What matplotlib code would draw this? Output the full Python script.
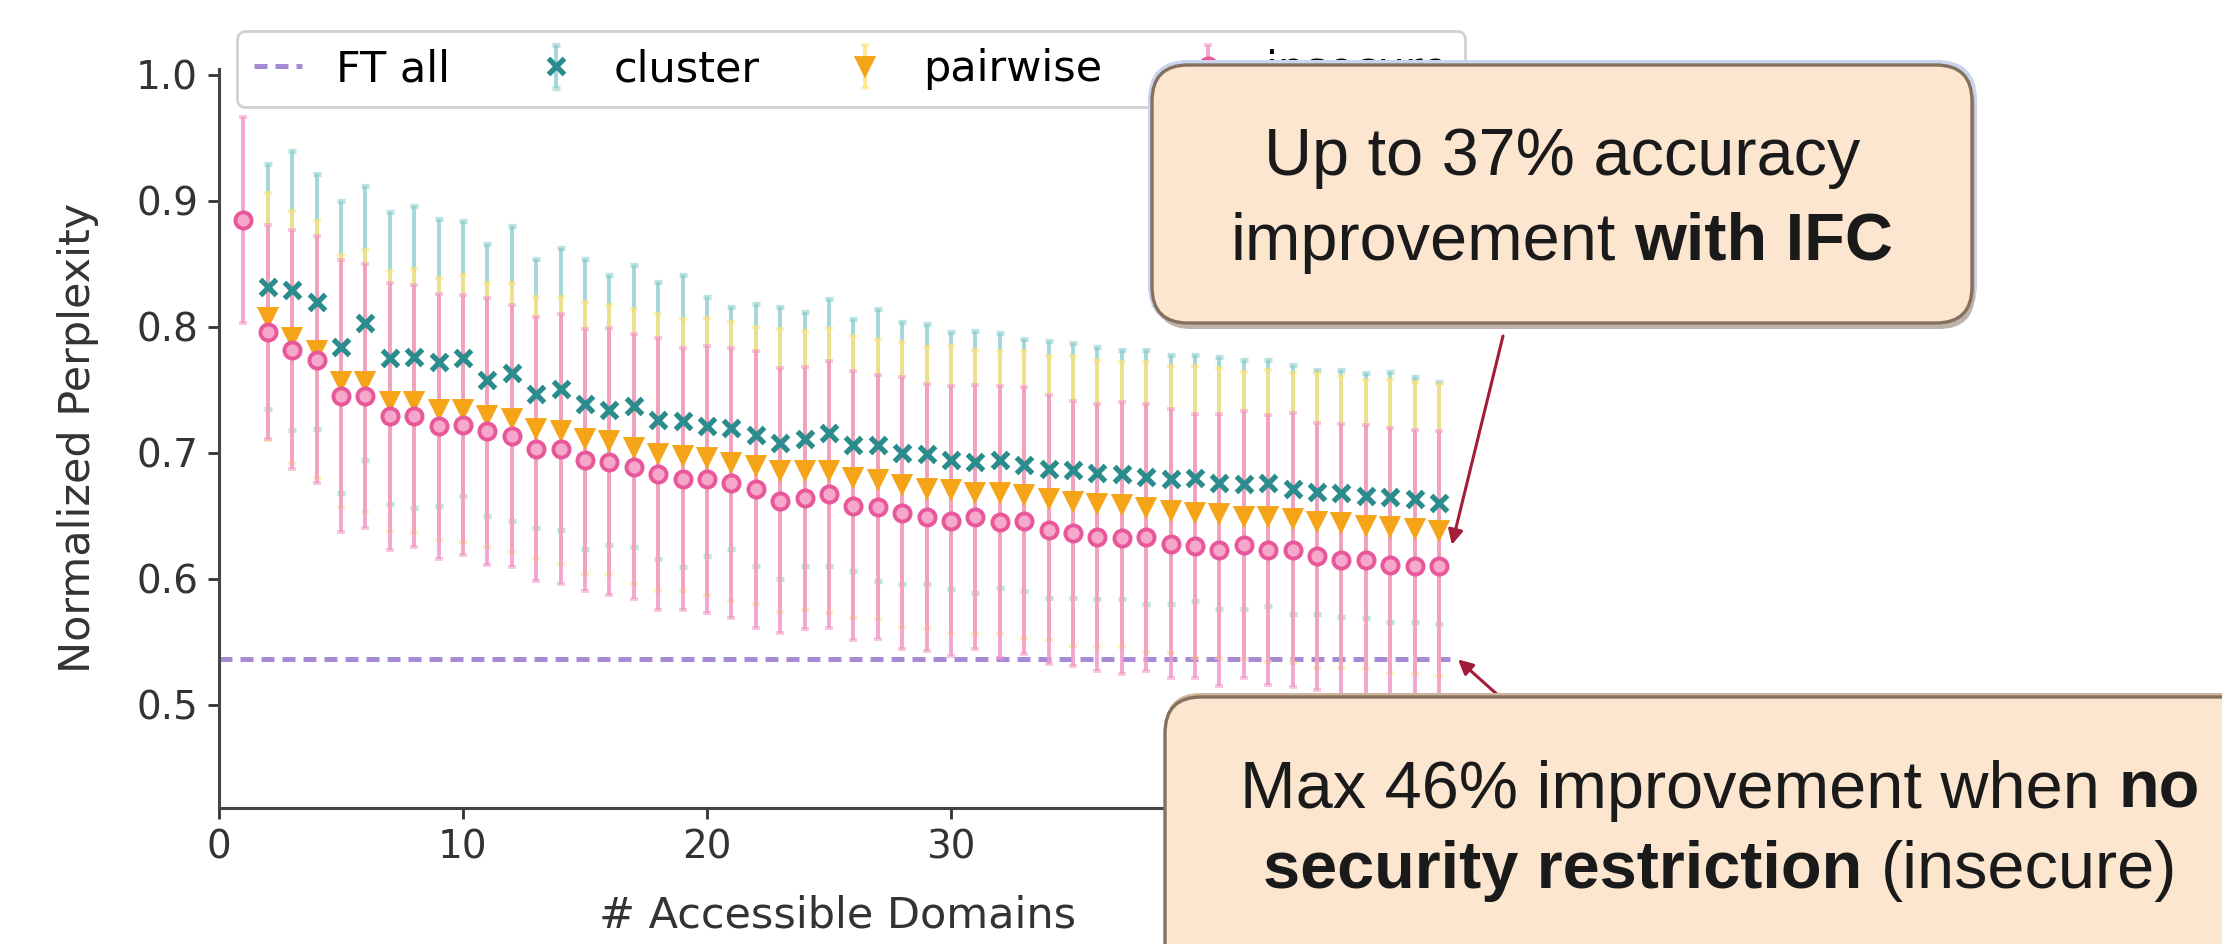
import matplotlib
matplotlib.use('Agg')
import matplotlib.pyplot as plt
from matplotlib.patches import FancyBboxPatch
from matplotlib.lines import Line2D
from matplotlib.transforms import IdentityTransform

# global style
plt.rcParams['font.family'] = ['DejaVu Sans']
plt.rcParams['axes.linewidth'] = 1.1
plt.rcParams['xtick.major.width'] = 1.0
plt.rcParams['ytick.major.width'] = 1.0
plt.rcParams['xtick.major.size'] = 4
plt.rcParams['ytick.major.size'] = 4

# ===================== data =====================
ins_x = list(range(1, 51))
ins_mean = [0.885, 0.796, 0.782, 0.774, 0.745, 0.745, 0.729, 0.729, 0.721, 0.722,
            0.717, 0.713, 0.703, 0.703, 0.694, 0.693, 0.689, 0.683, 0.679, 0.679,
            0.676, 0.671, 0.662, 0.664, 0.667, 0.658, 0.657, 0.652, 0.649, 0.646,
            0.649, 0.645, 0.646, 0.639, 0.636, 0.633, 0.632, 0.633, 0.628, 0.626,
            0.623, 0.627, 0.623, 0.623, 0.618, 0.615, 0.615, 0.611, 0.610, 0.610]
ins_err = [0.082, 0.085, 0.095, 0.098, 0.108, 0.105, 0.106, 0.104, 0.105, 0.103,
           0.106, 0.104, 0.105, 0.107, 0.104, 0.106, 0.105, 0.108, 0.104, 0.106,
           0.107, 0.110, 0.105, 0.104, 0.106, 0.107, 0.105, 0.108, 0.106, 0.107,
           0.105, 0.108, 0.106, 0.107, 0.105, 0.106, 0.108, 0.106, 0.107, 0.105,
           0.108, 0.106, 0.107, 0.109, 0.106, 0.108, 0.107, 0.109, 0.108, 0.107]

grp_x = list(range(2, 51))
cluster_mean = [0.832, 0.829, 0.820, 0.784, 0.803, 0.775, 0.776, 0.772, 0.775, 0.758,
                0.763, 0.747, 0.751, 0.739, 0.734, 0.737, 0.726, 0.725, 0.721, 0.720,
                0.714, 0.708, 0.711, 0.716, 0.706, 0.706, 0.700, 0.699, 0.694, 0.693,
                0.694, 0.690, 0.687, 0.686, 0.684, 0.683, 0.681, 0.679, 0.680, 0.676,
                0.675, 0.676, 0.671, 0.669, 0.668, 0.666, 0.665, 0.663, 0.660]
cluster_err = [0.097, 0.111, 0.101, 0.116, 0.109, 0.116, 0.120, 0.114, 0.109, 0.108,
               0.117, 0.107, 0.112, 0.115, 0.107, 0.112, 0.110, 0.116, 0.103, 0.096,
               0.104, 0.108, 0.101, 0.106, 0.100, 0.108, 0.104, 0.103, 0.102, 0.104,
               0.101, 0.100, 0.102, 0.101, 0.100, 0.099, 0.101, 0.099, 0.098, 0.100,
               0.099, 0.098, 0.099, 0.097, 0.098, 0.097, 0.099, 0.097, 0.096]
pairwise_mean = [0.808, 0.792, 0.782, 0.757, 0.757, 0.741, 0.741, 0.735, 0.735, 0.730,
                 0.728, 0.720, 0.718, 0.712, 0.710, 0.705, 0.700, 0.698, 0.697, 0.693,
                 0.690, 0.686, 0.686, 0.686, 0.681, 0.679, 0.675, 0.672, 0.671, 0.669,
                 0.669, 0.667, 0.664, 0.662, 0.660, 0.659, 0.657, 0.655, 0.653, 0.652,
                 0.650, 0.650, 0.648, 0.646, 0.645, 0.643, 0.642, 0.640, 0.639]
pairwise_err = [0.098, 0.100, 0.102, 0.100, 0.104, 0.103, 0.105, 0.104, 0.106, 0.105,
                0.107, 0.104, 0.106, 0.108, 0.107, 0.109, 0.110, 0.108, 0.110, 0.111,
                0.110, 0.112, 0.111, 0.113, 0.112, 0.111, 0.113, 0.112, 0.114, 0.113,
                0.112, 0.114, 0.113, 0.115, 0.114, 0.113, 0.115, 0.114, 0.116, 0.115,
                0.114, 0.116, 0.115, 0.117, 0.116, 0.115, 0.117, 0.116, 0.116]

ft_all = 0.536

legend_labels = ['FT all', 'cluster', 'pairwise', 'insecure']

box1_lines = [[('Up to 37% accuracy', 'normal')],
              [('improvement', 'normal'), ('with IFC', 'bold')]]
box2_lines = [[('Max 46% improvement when', 'normal'), ('no', 'bold')],
              [('security restriction', 'bold'), ('(insecure)', 'normal')]]

# ===================== figure =====================
W, H = 2222, 944
fig = plt.figure(figsize=(W / 200, H / 200), dpi=200)
ax = fig.add_axes([219 / W, 1 - 808 / H, (1456 - 219) / W, (808 - 68.7) / H])

# FT all baseline
ax.axhline(ft_all, color='#a68ad6', lw=1.8, dashes=(2.6, 1.6), zorder=1)


def draw_series(x, y, err, marker, mcolor, ecolor, ealpha, capcolor, ms, mfc=None, mew=1.4):
    c = ax.errorbar(x, y, yerr=err, fmt=marker, color=mcolor, ms=ms,
                    mfc=mfc if mfc else mcolor, mec=mcolor, mew=mew,
                    ecolor=ecolor, elinewidth=1.4, capsize=1.6, capthick=1.1, zorder=2)
    c.lines[0].set_zorder(6)
    for cap in c.lines[1]:
        cap.set_color(capcolor)
        cap.set_alpha(0.55)
    for bar in c.lines[2]:
        bar.set_alpha(ealpha)
    return c


h_cluster = draw_series(grp_x, cluster_mean, cluster_err, 'x', '#2b8c8e', '#86cccb', 0.75,
                        '#23585a', 5.6, mew=1.9)
h_pair = draw_series(grp_x, pairwise_mean, pairwise_err, 'v', '#f5a418', '#ffe27a', 0.8,
                     '#7a6a30', 5.6)
h_ins = draw_series(ins_x, ins_mean, ins_err, 'o', '#e9579b', '#f297c6', 0.85,
                    '#7a2c58', 5.8, mfc='#f6a8cb')

ax.set_xlim(0, 50.7)
ax.set_ylim(0.418, 1.005)
ax.set_xticks([0, 10, 20, 30, 40])
ax.set_yticks([0.5, 0.6, 0.7, 0.8, 0.9, 1.0])
ax.tick_params(labelsize=14, colors='#333333')
ax.spines['top'].set_visible(False)
ax.spines['right'].set_visible(False)
for s in ('left', 'bottom'):
    ax.spines[s].set_color('#444444')
ax.set_xlabel('# Accessible Domains', fontsize=15.5, color='#333333', labelpad=10)
ax.set_ylabel('Normalized Perplexity', fontsize=15.5, color='#333333')
ax.yaxis.set_label_coords(-0.097, 0.5)

ft_handle = Line2D([], [], color='#a68ad6', lw=1.8, dashes=(2.6, 1.6))
ax.legend([ft_handle, h_cluster, h_pair, h_ins], legend_labels,
          loc='upper left', bbox_to_anchor=(0.0146, 1.051), ncol=4, fontsize=15.5,
          handlelength=1.1, handletextpad=0.8, columnspacing=1.9, borderaxespad=0,
          framealpha=0.9, edgecolor='#cccccc')

# ===================== callout boxes =====================
ident = IdentityTransform()


def add_box(x0, ytop, w, h, glow=None, shadow=None):
    y0 = H - ytop - h
    if glow:
        fig.add_artist(FancyBboxPatch((x0 - 4, y0 - 2), w + 9, h + 7, transform=ident,
                                      boxstyle='round,pad=0,rounding_size=40',
                                      fc=glow, ec='none', zorder=2))
    if shadow:
        dx, dy, col = shadow
        fig.add_artist(FancyBboxPatch((x0 + dx, y0 + dy), w, h, transform=ident,
                                      boxstyle='round,pad=0,rounding_size=36',
                                      fc=col, ec='none', zorder=2))
    fig.add_artist(FancyBboxPatch((x0, y0), w, h, transform=ident,
                                  boxstyle='round,pad=0,rounding_size=36',
                                  fc='#fce6cf', ec='#857060', lw=1.2, zorder=3))


def add_rich_text(lines, cx, baselines, size=24):
    # lines mix regular and bold pieces, so each piece is placed by measuring
    renderer = fig.canvas.get_renderer()
    probe_a = fig.text(0, 0, 'xx', fontsize=size, family='Liberation Sans', transform=ident)
    probe_b = fig.text(0, 0, 'x x', fontsize=size, family='Liberation Sans', transform=ident)
    space = probe_b.get_window_extent(renderer).width - probe_a.get_window_extent(renderer).width
    probe_a.remove()
    probe_b.remove()
    for parts, yb in zip(lines, baselines):
        texts = [fig.text(0, H - yb, s, fontsize=size, fontweight=wt, family='Liberation Sans',
                          color='#1a1a1a', va='baseline', ha='left', transform=ident, zorder=4)
                 for s, wt in parts]
        widths = [t.get_window_extent(renderer).width for t in texts]
        x = cx - (sum(widths) + space * (len(texts) - 1)) / 2
        for t, wd in zip(texts, widths):
            t.set_x(x)
            x += wd + space


add_box(1152, 65, 820, 258, glow='#c9d5ef', shadow=(3, -6, '#bdb3aa'))
add_box(1165, 697, 1110, 290, shadow=(0, 4, '#cfb69d'))
add_rich_text(box1_lines, 1562, [175, 260])
add_rich_text(box2_lines, 1720, [808, 888])

# arrows from boxes to the curves
arrow_kw = dict(arrowstyle='-|>', color='#a31d3a', lw=1.1, mutation_scale=11,
                shrinkA=0, shrinkB=0)
ax.annotate('', xy=(50.53, 0.627), xycoords='data', xytext=(1503, H - 336),
            textcoords=ident, arrowprops=arrow_kw, annotation_clip=False)
ax.annotate('', xy=(50.78, ft_all), xycoords='data', xytext=(1500, H - 697),
            textcoords=ident, arrowprops=arrow_kw, annotation_clip=False)

fig.savefig('out.png', dpi=200)
